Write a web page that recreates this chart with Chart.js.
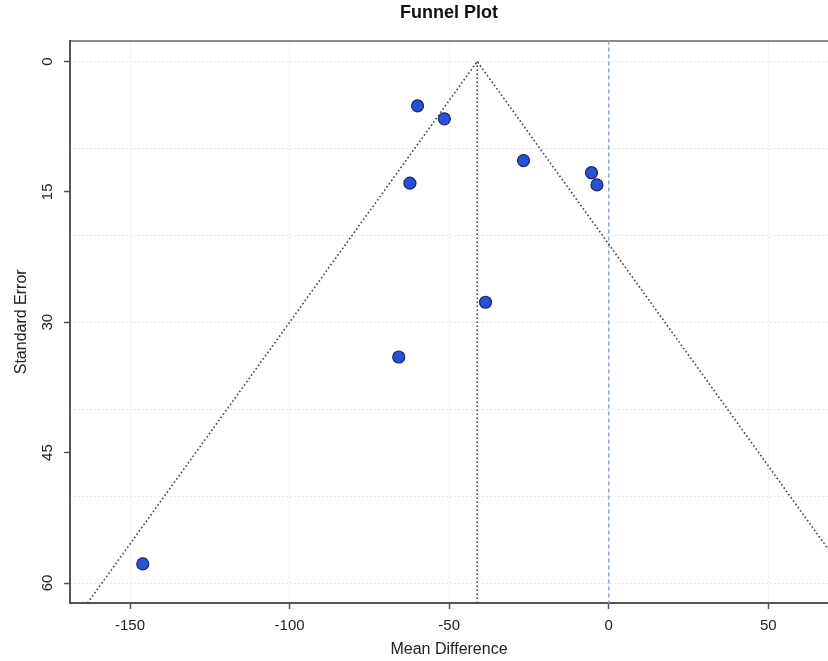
<!DOCTYPE html>
<html>
<head>
<meta charset="utf-8">
<title>Funnel Plot</title>
<script src="https://cdn.jsdelivr.net/npm/chart.js@4.4.1/dist/chart.umd.min.js"></script>
<style>
  html, body { margin: 0; padding: 0; background: #fff; overflow: hidden; }
  #wrap { width: 828px; height: 661px; }
</style>
</head>
<body>
<div id="wrap"><canvas id="funnel"></canvas></div>
<script>
// studies: mean difference and standard error
const studyMD = [-59.9, -51.5, -62.3, -26.7, -5.4, -3.7, -38.6, -65.8, -146.0];
const studySE = [5.1, 6.6, 14.0, 11.4, 12.8, 14.2, 27.7, 34.0, 57.8];

// pooled estimate and the 95% funnel edges
const pooledMD = -41.2;
const funnelMD = [-163.3, -41.2, 80.9];
const funnelSE = [62.3, 0, 62.3];

// axes
const mdRange = [-168.8, 68.7];
const seRange = [-2.4, 62.3];
const mdTicks = [-150, -100, -50, 0, 50];
const seTicks = [0, 15, 30, 45, 60];
const seGrid = [0, 10, 20, 30, 40, 50, 60];

const FONT = '"Liberation Sans", Arial, Helvetica, sans-serif';
const AXIS_COL = '#555';
const GRID_COL = '#e1e7ee';

const pts = (xs, ys) => xs.map((x, i) => ({ x: x, y: ys[i] }));
const useTicks = vals => scale => { scale.ticks = vals.map(v => ({ value: v })); };

// y tick labels are drawn rotated, reading bottom to top
const seTickLabels = {
  id: 'seTickLabels',
  afterDraw(chart) {
    const y = chart.scales.y;
    const ctx = chart.ctx;
    ctx.save();
    ctx.font = '15px ' + FONT;
    ctx.fillStyle = '#222';
    ctx.textAlign = 'center';
    ctx.textBaseline = 'middle';
    y.ticks.forEach(t => {
      ctx.save();
      ctx.translate(y.right - 22, y.getPixelForValue(t.value));
      ctx.rotate(-Math.PI / 2);
      ctx.fillText(String(t.value), 0, 0);
      ctx.restore();
    });
    ctx.restore();
  }
};

new Chart(document.getElementById('funnel'), {
  type: 'scatter',
  data: {
    datasets: [
      {
        label: 'Studies',
        data: pts(studyMD, studySE),
        pointRadius: 6,
        pointHoverRadius: 6,
        backgroundColor: '#2a50d6',
        borderColor: '#1a2866',
        borderWidth: 1.2
      },
      {
        label: 'Funnel',
        data: pts(funnelMD, funnelSE),
        showLine: true,
        pointRadius: 0,
        borderColor: '#444',
        borderWidth: 1.6,
        borderDash: [1.6, 2.4]
      },
      {
        label: 'Pooled',
        data: pts([pooledMD, pooledMD], [0, seRange[1]]),
        showLine: true,
        pointRadius: 0,
        borderColor: '#444',
        borderWidth: 1.6,
        borderDash: [1.6, 2.4]
      },
      {
        label: 'No effect',
        data: pts([0, 0], seRange),
        showLine: true,
        pointRadius: 0,
        borderColor: '#8fa7bf',
        borderWidth: 1.5,
        borderDash: [4, 3]
      }
    ]
  },
  options: {
    responsive: true,
    maintainAspectRatio: false,
    animation: false,
    layout: { padding: 0, autoPadding: false },
    plugins: {
      legend: { display: false },
      tooltip: { enabled: false },
      title: {
        display: true,
        text: 'Funnel Plot',
        fullSize: false,
        color: '#111',
        font: { family: FONT, size: 18, weight: 'bold' },
        padding: { top: 2, bottom: 17 }
      }
    },
    scales: {
      x: {
        type: 'linear',
        position: 'bottom',
        min: mdRange[0],
        max: mdRange[1],
        afterBuildTicks: useTicks(mdTicks),
        afterFit: s => { s.height = 58; },
        grid: {
          color: GRID_COL,
          lineWidth: 1,
          tickColor: AXIS_COL,
          tickWidth: 1.5,
          tickLength: 6
        },
        border: { color: AXIS_COL, width: 2, dash: [2, 2] },
        ticks: {
          color: '#222',
          padding: 8,
          maxRotation: 0,
          font: { family: FONT, size: 15 }
        },
        title: {
          display: true,
          text: 'Mean Difference',
          color: '#222',
          font: { family: FONT, size: 16 },
          padding: { top: 0, bottom: 2 }
        }
      },
      xTop: {
        type: 'linear',
        position: 'top',
        min: mdRange[0],
        max: mdRange[1],
        afterFit: s => { s.height = 0; },
        grid: { display: false, drawTicks: false },
        ticks: { display: false },
        border: { display: true, color: '#8c8c8c', width: 2 }
      },
      y: {
        type: 'linear',
        position: 'left',
        reverse: true,
        min: seRange[0],
        max: seRange[1],
        afterBuildTicks: useTicks(seTicks),
        afterFit: s => { s.width = 70; },
        grid: {
          drawOnChartArea: false,
          tickColor: AXIS_COL,
          tickWidth: 1.5,
          tickLength: 6
        },
        border: { color: AXIS_COL, width: 2 },
        ticks: { display: false },
        title: {
          display: true,
          text: 'Standard Error',
          color: '#222',
          font: { family: FONT, size: 16 },
          padding: { top: 12, bottom: 0 }
        }
      },
      yGrid: {
        type: 'linear',
        position: 'right',
        reverse: true,
        min: seRange[0],
        max: seRange[1],
        afterBuildTicks: useTicks(seGrid),
        afterFit: s => { s.width = 0; },
        grid: { color: GRID_COL, lineWidth: 1, drawTicks: false },
        border: { display: false, dash: [2, 2] },
        ticks: { display: false }
      }
    }
  },
  plugins: [seTickLabels]
});
</script>
</body>
</html>
